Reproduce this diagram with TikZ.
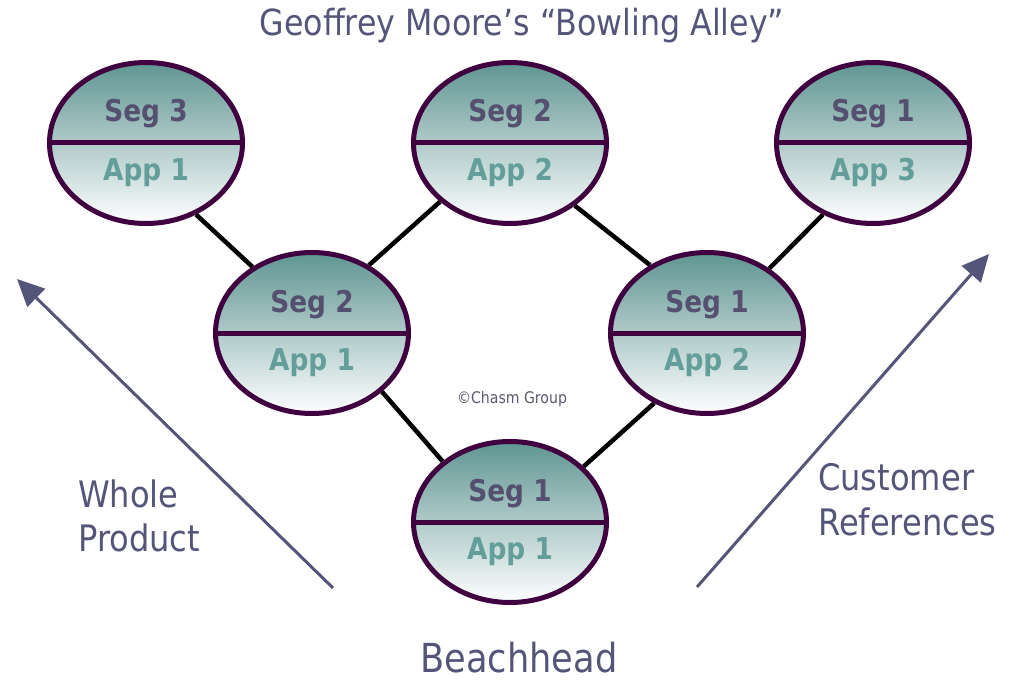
\documentclass[tikz,border=0pt]{standalone}
\usepackage{fontspec}
\setmainfont[FakeStretch=0.88]{DejaVu Sans}
\usetikzlibrary{shapes.geometric,arrows.meta,calc}

\definecolor{rim}{HTML}{400040}
\definecolor{tealtop}{HTML}{5E9592}
\definecolor{tealmid}{HTML}{C8D9D8}
\definecolor{segink}{HTML}{55506F}
\definecolor{appink}{HTML}{639E9A}
\definecolor{slate}{HTML}{55557A}
\definecolor{fineprint}{HTML}{5A5A6E}

\pgfdeclarelayer{background}
\pgfsetlayers{background,main}

\tikzset{
  pin/.style={ellipse, draw=rim, line width=5pt, minimum width=193pt,
    minimum height=161pt, inner sep=0pt,
    top color=tealtop, middle color=tealmid, bottom color=white},
  divider/.style={draw=rim, line width=5pt},
  segtxt/.style={anchor=base, inner sep=0pt, text=segink,
    font=\fontsize{30}{36}\selectfont\bfseries},
  apptxt/.style={anchor=base, inner sep=0pt, text=appink,
    font=\fontsize{30}{36}\selectfont\bfseries},
  link/.style={line width=4.5pt, black},
  trend/.style={line width=3pt, slate, -{Triangle[length=27pt,width=25pt]}},
  caption/.style={inner sep=0pt, text=slate, font=\fontsize{36.5}{45}\selectfont},
}

% a two-level pin: segment on top, application below
\newcommand{\bowlpin}[4]{%
  \node[pin] (#1) at (#2) {};
  \draw[divider] (#1.west) -- (#1.east);
  \node[segtxt] (#1-seg) at ($(#1.center)+(0,-21)$) {#3};
  \node[apptxt] (#1-app) at ($(#1.center)+(0,37)$) {#4};
}

\begin{document}
\begin{tikzpicture}[x=1pt,y=-1pt]
\useasboundingbox (0,0) rectangle (1017,682);

% pins
\bowlpin{tl}{146,143}{Seg 3}{App 1}
\bowlpin{tm}{510,143}{Seg 2}{App 2}
\bowlpin{tr}{873,143}{Seg 1}{App 3}
\bowlpin{ml}{312,333}{Seg 2}{App 1}
\bowlpin{mr}{707,333}{Seg 1}{App 2}
\bowlpin{bt}{510,522}{Seg 1}{App 1}

% links between pins
\begin{pgfonlayer}{background}
  \draw[link] (tl.-55) -- (ml.132);
  \draw[link] (ml.50) -- (tm.220);
  \draw[link] (tm.-44) -- (mr.130);
  \draw[link] (mr.46) -- (tr.235);
  \draw[link] (ml.-40) -- (bt.138);
  \draw[link] (bt.37) -- (mr.-127);
\end{pgfonlayer}

% growth arrows
\coordinate (lfoot) at (333,588);
\coordinate (lhead) at (17,279);
\coordinate (rfoot) at (697,587);
\coordinate (rhead) at (989,254);
\draw[trend] (lfoot) -- (lhead);
\draw[trend] (rfoot) -- (rhead);

% texts
\node[inner sep=0pt, anchor=base, text=slate, font=\fontsize{36}{44}\selectfont]
  (title) at (522,36) {Geoffrey Moore’s “Bowling Alley”};
\node[inner sep=0pt, anchor=base, text depth=0pt, text=slate,
  font=\fontsize{40}{48}\selectfont]
  (beach) at (519,672) {Beachhead};
\node[caption, anchor=base west] (whole) at (78,507) {Whole};
\node[caption, anchor=base west] (product) at (78,551) {Product};
\node[caption, anchor=base west] (customer) at (818,490) {Customer};
\node[caption, anchor=base west] (refs) at (818,535) {References};
\node[inner sep=0pt, anchor=base, text=fineprint, font=\fontsize{16}{19}\selectfont]
  (copy) at (512,403) {©Chasm Group};
\end{tikzpicture}
\end{document}
